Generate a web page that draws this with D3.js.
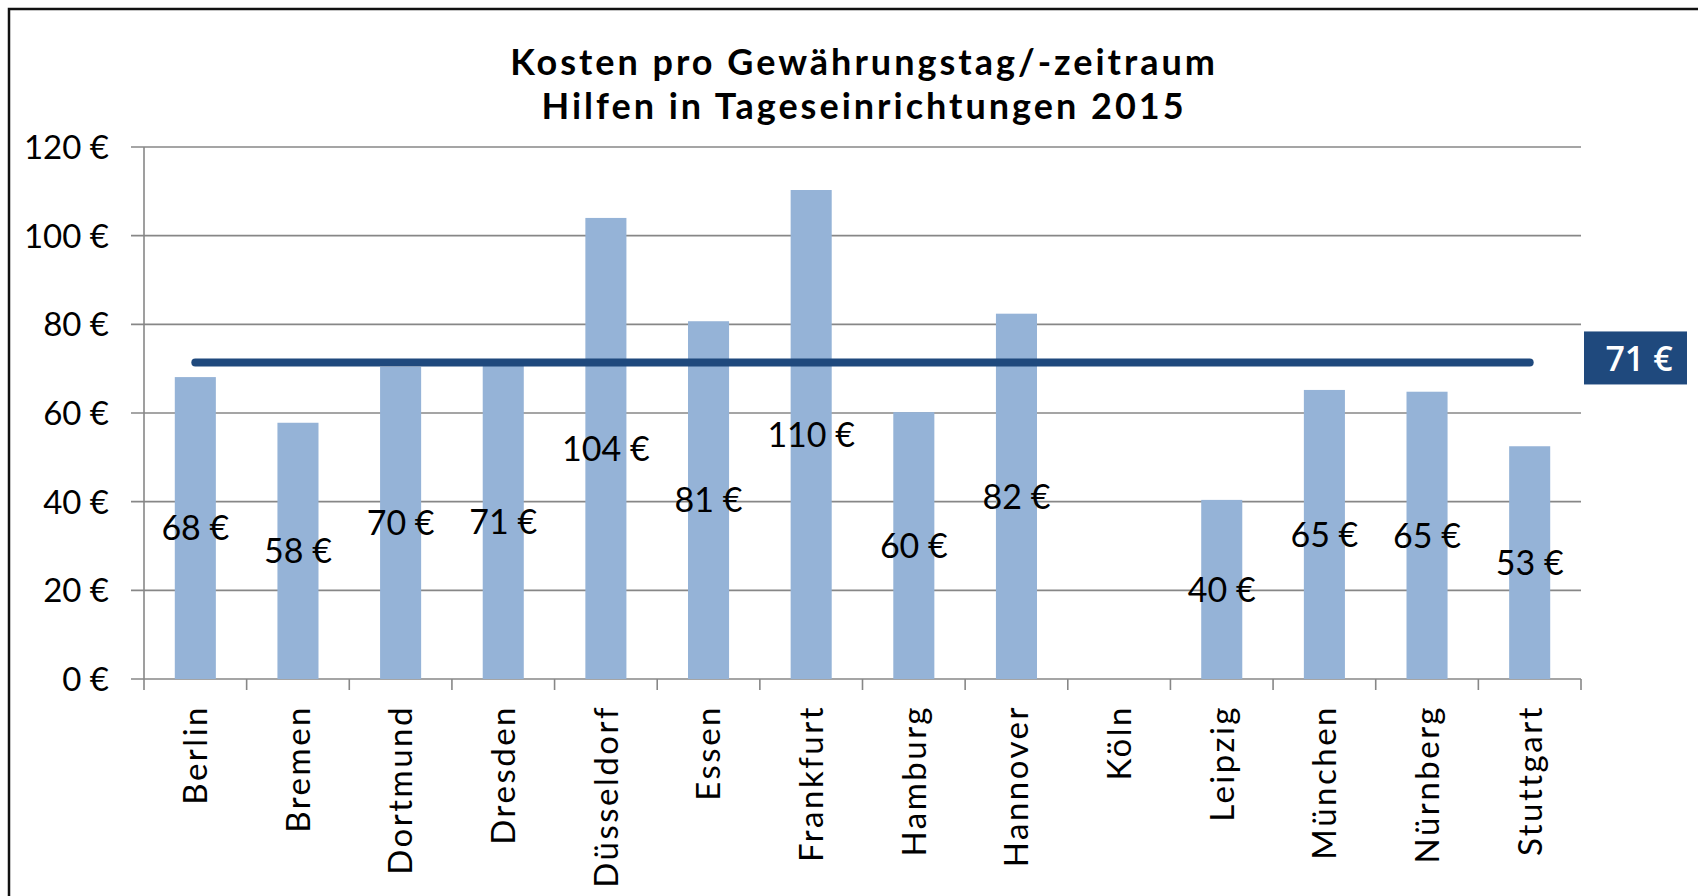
<!DOCTYPE html>
<html>
<head>
<meta charset="utf-8">
<script src="https://cdn.jsdelivr.net/npm/d3@7"></script>
<style>
  html, body { margin: 0; padding: 0; background: #fff; }
  svg { display: block; }
  .title { font-family: Lato, "Open Sans", sans-serif; font-weight: bold; font-size: 36px; fill: #000; letter-spacing: 3px; }
  .ytick { font-family: Lato, sans-serif; font-size: 33px; fill: #000; }
  .xtick { font-family: Lato, sans-serif; font-size: 33px; fill: #000; letter-spacing: 2.5px; }
  .dlabel { font-family: Lato, sans-serif; font-size: 34px; fill: #000; }
  .avglabel { font-family: "Open Sans", sans-serif; font-size: 34px; font-weight: 600; fill: #fff; }
</style>
</head>
<body>
<svg id="chart" width="1698" height="896"></svg>
<script>
// Kosten pro Gewährungstag, Hilfen in Tageseinrichtungen 2015
var cities = ['Berlin', 'Bremen', 'Dortmund', 'Dresden', 'Düsseldorf', 'Essen', 'Frankfurt',
  'Hamburg', 'Hannover', 'Köln', 'Leipzig', 'München', 'Nürnberg', 'Stuttgart'];
var costs = [68.1, 57.8, 70.4, 71.0, 104.0, 80.7, 110.3, 60.2, 82.4, null, 40.4, 65.2, 64.8, 52.5];
var average = 71.4;
var yTicks = [0, 20, 40, 60, 80, 100, 120];
var titleLines = ['Kosten pro Gewährungstag/-zeitraum', 'Hilfen in Tageseinrichtungen 2015'];

var svg = d3.select('#chart');
var margin = {top: 147, left: 144, right: 117, bottom: 217};
var width = 1698 - margin.left - margin.right;
var height = 896 - margin.top - margin.bottom;
var euro = function (v) { return Math.round(v) + ' €'; };

// outer chart frame (right/bottom edge lie outside the picture)
svg.append('rect')
    .attr('x', 9).attr('y', 9)
    .attr('width', 1760).attr('height', 960)
    .attr('fill', 'none')
    .attr('stroke', '#111')
    .attr('stroke-width', 2.5);

svg.selectAll('.title')
    .data(titleLines)
  .enter().append('text')
    .attr('class', 'title')
    .attr('x', margin.left + width / 2 + 1.5)
    .attr('y', function (d, i) { return 75 + i * 44; })
    .attr('text-anchor', 'middle')
    .text(function (d) { return d; });

var g = svg.append('g').attr('transform', 'translate(' + margin.left + ',' + margin.top + ')');

var x = d3.scaleBand().domain(cities).range([0, width]).paddingInner(0.6).paddingOuter(0.3);
var y = d3.scaleLinear().domain([0, 120]).range([height, 0]);

// gridlines + y ticks
g.selectAll('.grid')
    .data(yTicks)
  .enter().append('line')
    .attr('x1', -13).attr('x2', width)
    .attr('y1', function (d) { return y(d); })
    .attr('y2', function (d) { return y(d); })
    .attr('stroke', '#878787')
    .attr('stroke-width', 1.6);

g.selectAll('.ytick')
    .data(yTicks)
  .enter().append('text')
    .attr('class', 'ytick')
    .attr('x', -35)
    .attr('y', function (d) { return y(d); })
    .attr('dy', '0.36em')
    .attr('text-anchor', 'end')
    .text(function (d) { return d + ' €'; });

// y axis line
g.append('line')
    .attr('x1', 0).attr('x2', 0)
    .attr('y1', y(120)).attr('y2', y(0))
    .attr('stroke', '#878787').attr('stroke-width', 1.6);

// x axis ticks at category boundaries
var bounds = d3.range(cities.length + 1).map(function (i) { return i * x.step(); });
g.selectAll('.xtickline')
    .data(bounds)
  .enter().append('line')
    .attr('x1', function (d) { return d; })
    .attr('x2', function (d) { return d; })
    .attr('y1', y(0)).attr('y2', y(0) + 11)
    .attr('stroke', '#878787').attr('stroke-width', 1.6);

var data = cities.map(function (c, i) { return {city: c, value: costs[i]}; });
var withValue = data.filter(function (d) { return d.value !== null; });

g.selectAll('.bar')
    .data(withValue)
  .enter().append('rect')
    .attr('x', function (d) { return x(d.city); })
    .attr('y', function (d) { return y(d.value); })
    .attr('width', x.bandwidth())
    .attr('height', function (d) { return y(0) - y(d.value); })
    .attr('fill', '#95b3d7');

// average line
var center = function (c) { return x(c) + x.bandwidth() / 2; };
g.append('line')
    .attr('x1', center(cities[0]))
    .attr('x2', center(cities[cities.length - 1]))
    .attr('y1', y(average)).attr('y2', y(average))
    .attr('stroke', '#1f497d')
    .attr('stroke-width', 8)
    .attr('stroke-linecap', 'round');

g.selectAll('.dlabel')
    .data(withValue)
  .enter().append('text')
    .attr('class', 'dlabel')
    .attr('x', function (d) { return center(d.city); })
    .attr('y', function (d) { return (y(d.value) + y(0)) / 2; })
    .attr('dy', '0.36em')
    .attr('text-anchor', 'middle')
    .text(function (d) { return euro(d.value); });

g.selectAll('.xtick')
    .data(cities)
  .enter().append('text')
    .attr('class', 'xtick')
    .attr('transform', function (d) { return 'translate(' + center(d) + ',' + (y(0) + 26) + ') rotate(-90)'; })
    .attr('dy', '0.36em')
    .attr('text-anchor', 'end')
    .text(function (d) { return d; });

// average label box
var avgBox = g.append('g')
    .attr('transform', 'translate(' + (width + 3) + ',' + (y(average) - 31) + ')');
avgBox.append('rect')
    .attr('width', 103).attr('height', 53)
    .attr('fill', '#1f497d');
avgBox.append('text')
    .attr('class', 'avglabel')
    .attr('x', 55).attr('y', 27)
    .attr('dy', '0.36em')
    .attr('text-anchor', 'middle')
    .text(euro(average));
</script>
</body>
</html>
